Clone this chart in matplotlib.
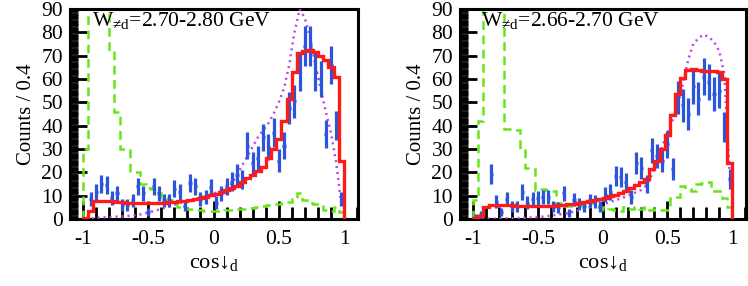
import numpy as np
import matplotlib
matplotlib.use("Agg")
import matplotlib.pyplot as plt
from matplotlib.ticker import MultipleLocator

plt.rcParams['font.family'] = ['Liberation Serif', 'DejaVu Serif']
plt.rcParams['mathtext.fontset'] = 'custom'
plt.rcParams['mathtext.rm'] = 'Liberation Serif'

edges = np.linspace(-1, 1, 51)
centers = 0.5 * (edges[:-1] + edges[1:])

titles = ["W$_{\\mathregular{≠d}}$=2.70-2.80 GeV", "W$_{\\mathregular{≠d}}$=2.66-2.70 GeV"]

# ---- panel 1: W = 2.70-2.80 GeV ----
red1 = [0.3, 3.3, 7.6, 7.9, 7.8, 7.6, 7.4, 7.2, 7.0, 6.9, 6.8, 6.7, 6.7, 6.8, 6.9, 7.0, 7.2,
        7.4, 7.6, 7.9, 8.2, 8.6, 9.0, 9.5, 10.1, 10.8, 11.5, 12.3, 13.2, 14.3, 15.8, 17.5,
        19.0, 20.5, 22.5, 26.0, 30.0, 34.5, 42.0, 51.6, 63.0, 71.0, 72.0, 72.5, 71.5, 70.0,
        68.0, 65.0, 61.0, 25.0]
green1 = [30, 130, 130, 130, 130, 72, 46, 30, 30, 20, 20, 15, 13.5, 13, 11, 9, 8, 6.5, 5,
          4.5, 4.2, 4, 3.8, 3.6, 3.5, 3.5, 3.6, 3.8, 4, 4.2, 4.5, 4.5, 4.8, 5, 5.5, 6, 6.5,
          6.5, 7, 7.5, 8.5, 11, 8, 7, 6.5, 6.5, 4, 3.5, 5, 3]
magenta1 = [0, 0.3, 0.5, 0.6, 0.8, 0.9, 1.0, 1.1, 1.3, 1.5, 1.8, 2.2, 2.8, 3.4, 4.0, 4.7,
            5.4, 6.2, 6.8, 7.3, 7.9, 8.5, 9.1, 9.8, 10.5, 11.3, 12.2, 13.2, 15.0, 19.0, 23.0,
            27.0, 31.0, 35.0, 38.0, 41.0, 45.0, 50.0, 56.0, 66.0, 80.0, 90.0, 86.0, 78.0,
            66.0, 56.0, 46.0, 37.0, 24.0, 6.0]
data1 = [np.nan, 8.6, 11.5, 15, 14.6, 9, 11, 6, 6, 8, 14, 11, 3, 14, 11, 8, 8, 13, 11.5, 5.7,
         15.5, 14, 8.5, 9.3, 13.6, 7, 11, 14, 16, 19, 17, 31.5, 24, 26, 35, 31, 37, 25, 31.5,
         47.5, 50.5, 63, 74, 74, 63, 60, 36.5, 66, 40, 8.5]

# ---- panel 2: W = 2.66-2.70 GeV ----
red2 = [0.5, 1.5, 5.0, 5.8, 6.0, 6.0, 5.9, 5.8, 5.7, 5.6, 5.5, 5.4, 5.4, 5.5, 5.6, 5.7, 5.9,
        6.1, 6.3, 6.6, 6.9, 7.2, 7.6, 8.1, 8.6, 9.2, 9.8, 10.5, 11.3, 12.2, 13.2, 14.5, 15.8,
        17.2, 21.5, 25.0, 30.0, 35.8, 44.4, 53.7, 60.5, 64.0, 64.5, 64.0, 63.5, 63.5, 63.5,
        63.0, 60.0, 24.0]
green2 = [8, 42, 130, 130, 130, 130, 38.7, 38.5, 38, 30, 22, 21.5, 12.5, 13, 12.5, 12, 7, 6,
          5.5, 6, 5.5, 6.5, 7.5, 7, 5, 3.8, 4.5, 3.8, 3.5, 5, 4.5, 5, 4.5, 5, 4, 4.5, 4, 4, 9,
          9.5, 14, 13, 12, 15, 15.5, 16, 12, 12, 9, 5]
magenta2 = [0, 0, 0.1, 0.1, 0.2, 0.2, 0.3, 0.3, 0.4, 0.5, 0.6, 0.7, 0.8, 1.0, 1.3, 1.6, 1.9,
            2.2, 2.6, 3.2, 3.8, 4.4, 5.0, 5.5, 6.0, 6.6, 7.3, 8.0, 8.8, 9.6, 10.5, 11.5, 12.5,
            14.5, 19.0, 24.0, 31.0, 37.0, 42.0, 49.0, 58.0, 68.0, 75.0, 77.5, 79.0, 78.0,
            76.0, 72.0, 62.0, 20.0]
data2 = [1.2, 2.0, np.nan, 19.3, 7.5, 3, 8.5, 5.5, 5.5, 11.5, 7, 8.5, 9, 9.3, 9.3, 5.3, 5, 11,
         2.5, 8.3, 6.4, 5.5, 8, 7.5, 5.5, 10.5, 11.5, 18.6, 17.9, 15.8, 9.5, 24, 22, 15, 29.4,
         27, 25, 32, 21.5, 52, 48.7, 45, 57, 51.6, 61, 58.7, 53.7, 55, 39.4, 17.2]

panels = [(red1, green1, magenta1, data1), (red2, green2, magenta2, data2)]

fig = plt.figure(figsize=(7.48, 2.86), dpi=100)
rects = [[70/748, 67/286, 288/748, 210/286], [460/748, 67/286, 286/748, 210/286]]

for k, (red, green, mag, data) in enumerate(panels):
    ax = fig.add_axes(rects[k])
    ax.stairs(green, edges, baseline=0, color='#66e619', lw=1.8,
              linestyle=(0, (3.5, 2.2)), zorder=2)
    ax.plot(centers, mag, color='#b946e6', lw=1.8, linestyle=(0, (0.8, 1.6)), zorder=3)
    d = np.array(data, dtype=float)
    ax.errorbar(centers, d, yerr=np.sqrt(d), xerr=0.012, fmt='none', ecolor='#2b55dd',
                elinewidth=2.3, capsize=0, zorder=4)
    ax.stairs(red, edges, baseline=0, color='#ff1a1a', lw=2.4, zorder=5)

    ax.set_xlim(-1.1, 1.107)
    ax.set_ylim(0, 90)
    ax.xaxis.set_minor_locator(MultipleLocator(0.1))
    ax.yaxis.set_major_locator(MultipleLocator(10))
    ax.yaxis.set_minor_locator(MultipleLocator(1))
    ax.set_xticks([-1, -0.5, 0, 0.5, 1])
    ax.set_xticklabels(['-1', '-0.5', '0', '0.5', '1'])
    ax.set_yticks(range(0, 91, 10))
    ax.set_yticklabels([str(v) for v in range(0, 91, 10)])
    ax.tick_params(axis='both', which='both', direction='in', top=False, right=False,
                   labelsize=15.5, width=2.0, color='black')
    ax.tick_params(axis='y', which='major', length=12, pad=5)
    ax.tick_params(axis='y', which='minor', length=6)
    ax.tick_params(axis='x', which='major', length=13, pad=8)
    ax.tick_params(axis='x', which='minor', length=9)
    for s in ax.spines.values():
        s.set_linewidth(2.2)
    ax.set_ylabel('Counts / 0.4', fontsize=15, labelpad=4)
    ax.set_xlabel('cos↓$_{\\mathregular{d}}$', fontsize=16, labelpad=3)
    ax.text(0.075, 0.995, titles[k], transform=ax.transAxes, ha='left', va='top',
            fontsize=15.5)

fig.savefig('out.png', dpi=100)
